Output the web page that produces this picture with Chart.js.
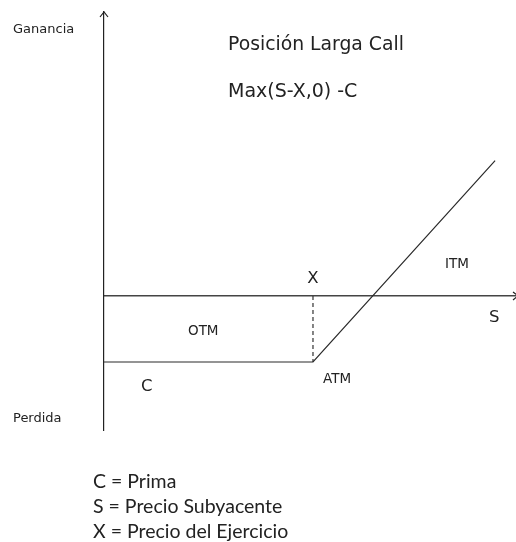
<!DOCTYPE html>
<html>
<head>
<meta charset="utf-8">
<script src="https://cdn.jsdelivr.net/npm/chart.js@4"></script>
<style>
  html, body { margin: 0; padding: 0; background: #fff; }
  #wrap { width: 516px; height: 542px; }
</style>
</head>
<body>
<div id="wrap"><canvas id="payoffChart"></canvas></div>
<script>
// precio del subyacente (S) y resultado de la posición
const precioS = [0, 35, 65.5];
const resultado = [-10, -10, 20.5];

// precio de ejercicio y prima
const ejercicio = 35;
const prima = 10;

// rango de los ejes
const rangoS = [0, 69];
const rangoResultado = [-20.3, 43];

const textos = {
    ganancia: 'Ganancia',
    perdida: 'Perdida',
    titulo: 'Posición Larga Call',
    formula: 'Max(S-X,0) -C',
    x: 'X', s: 'S', c: 'C',
    otm: 'OTM', itm: 'ITM', atm: 'ATM'
};
const leyenda = ['C = Prima', 'S = Precio Subyacente', 'X = Precio del Ejercicio'];

const ink = '#222';
const verdanaLike = '"DejaVu Sans", Verdana, sans-serif';

const anotaciones = {
    id: 'anotaciones',
    afterDraw(chart) {
        const { ctx, chartArea, scales: { x, y } } = chart;
        const y0 = y.getPixelForValue(0);
        const xk = x.getPixelForValue(ejercicio);

        ctx.save();
        // puntas de flecha de los ejes (la del eje S queda casi fuera del lienzo)
        ctx.strokeStyle = ink;
        ctx.lineWidth = 1.2;
        ctx.beginPath();
        ctx.moveTo(chartArea.left - 4, chartArea.top + 5);
        ctx.lineTo(chartArea.left, chartArea.top);
        ctx.lineTo(chartArea.left + 4, chartArea.top + 5);
        ctx.moveTo(chartArea.right - 3, y0 - 4);
        ctx.lineTo(chartArea.right + 2, y0);
        ctx.lineTo(chartArea.right - 3, y0 + 4);
        ctx.stroke();

        ctx.fillStyle = ink;
        ctx.textBaseline = 'alphabetic';
        const txt = (t, px, py, size, align = 'left', family = verdanaLike) => {
            ctx.font = `${size}px ${family}`;
            ctx.textAlign = align;
            ctx.fillText(t, px, py);
        };

        txt(textos.ganancia, 13, 33, 13);
        txt(textos.perdida, 13, 422, 13);
        txt(textos.titulo, 228, 49.5, 18.8);
        txt(textos.formula, 228, 97, 19);

        txt(textos.x, xk, 283, 16.5, 'center');
        txt(textos.s, 489, 322, 16.5);
        txt(textos.c, 141, 391, 16.5);
        txt(textos.otm, 188, 335, 13.5);
        txt(textos.itm, 445, 268, 13.5);
        txt(textos.atm, 323, 383, 13.5);

        leyenda.forEach((linea, i) => {
            txt(linea, 93, 488 + i * 25, 19.5, 'left', 'Lato, "Open Sans", sans-serif');
        });
        ctx.restore();
    }
};

const ctx = document.getElementById('payoffChart');
new Chart(ctx, {
    type: 'scatter',
    data: {
        datasets: [
            {
                label: 'Resultado',
                data: precioS.map((s, i) => ({ x: s, y: resultado[i] })),
                showLine: true,
                borderColor: '#2a2a2a',
                borderWidth: 1.2,
                pointRadius: 0,
                tension: 0
            },
            {
                label: 'Ejercicio',
                data: [{ x: ejercicio, y: 0 }, { x: ejercicio, y: -prima }],
                showLine: true,
                borderColor: '#333',
                borderWidth: 1.2,
                borderDash: [4, 3],
                pointRadius: 0
            }
        ]
    },
    options: {
        responsive: true,
        maintainAspectRatio: false,
        animation: false,
        layout: { padding: { left: 104, top: 12, right: 0, bottom: 112 } },
        plugins: {
            legend: { display: false },
            tooltip: { enabled: false }
        },
        scales: {
            x: {
                type: 'linear',
                min: rangoS[0],
                max: rangoS[1],
                position: { y: 0 },
                grid: { display: false },
                ticks: { display: false },
                border: { display: true, color: '#444', width: 1.4 }
            },
            y: {
                type: 'linear',
                min: rangoResultado[0],
                max: rangoResultado[1],
                position: { x: 0 },
                grid: { display: false },
                ticks: { display: false },
                border: { display: true, color: ink, width: 1.2 }
            }
        }
    },
    plugins: [anotaciones]
});
</script>
</body>
</html>
